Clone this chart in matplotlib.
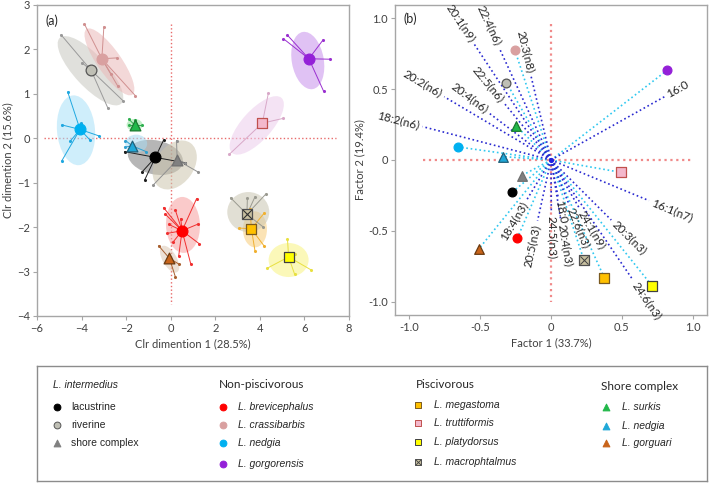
import numpy as np
import matplotlib
matplotlib.use("Agg")
import matplotlib.pyplot as plt
from matplotlib.patches import Ellipse
from matplotlib import transforms

# Especies / grupos
species = ['lacustrine', 'riverine', 'shore_int', 'brevicephalus', 'crassibarbis',
           'nedgia', 'gorgorensis', 'megastoma', 'truttiformis', 'platydorsus',
           'macrophtalmus', 'surkis', 'nedgia_shore', 'gorguari']

# Panel (a): centroides
cent_x = [-0.69, -3.57, 0.29, 0.51, -3.09, -4.07, 6.20, 3.62, 4.11, 5.29, 3.42, -1.62, -1.73, -0.06]
cent_y = [-0.43, 1.53, -0.49, -2.08, 1.79, 0.20, 1.79, -2.04, 0.34, -2.67, -1.71, 0.30, -0.17, -2.70]

# Panel (a): individuos por especie
ind_lacustrine = [(-2.07, -0.30), (-0.32, -0.04), (0.63, -0.55), (-1.29, -0.76), (-1.17, -0.94)]
ind_riverine = [(-4.92, 2.33), (-3.98, 1.70), (-2.82, 0.68), (-2.15, 0.85)]
ind_shore_int = [(0.26, -0.05), (1.23, -0.76), (-0.80, -1.06), (0.63, -0.55)]
ind_brevicephalus = [(1.16, -1.36), (-0.32, -1.56), (0.21, -1.62), (-0.24, -1.71), (0.45, -1.81),
                     (-0.08, -1.94), (-0.15, -2.14), (1.23, -1.93), (1.27, -2.37), (0.10, -2.34),
                     (0.36, -2.64), (0.90, -2.83)]
ind_crassibarbis = [(-3.87, 2.57), (-3.00, 2.51), (-2.40, 1.81), (-2.67, 1.44), (-2.37, 1.17), (-1.59, 0.96)]
ind_nedgia = [(-4.62, 1.04), (-4.88, 0.30), (-4.02, 0.34), (-4.50, -0.06), (-3.62, -0.04),
              (-3.20, 0.05), (-4.89, -0.51)]
ind_gorgorensis = [(5.06, 2.24), (5.24, 2.32), (6.83, 2.21), (7.13, 1.78), (6.86, 1.06)]
ind_megastoma = [(3.08, -2.02), (4.20, -1.68), (3.78, -2.53), (4.20, -2.43), (3.56, -1.59)]
ind_truttiformis = [(4.38, 1.01), (5.06, 0.45), (2.63, -0.36)]
ind_platydorsus = [(5.24, -2.27), (5.59, -2.61), (6.29, -2.96), (5.56, -3.06), (4.31, -2.93)]
ind_macrophtalmus = [(2.69, -1.34), (3.44, -1.34), (3.78, -1.32), (4.26, -1.26), (4.16, -2.00)]
ind_surkis = [(-1.88, 0.43), (-1.88, 0.30), (-1.30, 0.30), (-1.62, 0.42)]
ind_nedgia_shore = [(-2.03, -0.05), (-2.07, -0.20), (-1.10, -0.30)]
ind_gorguari = [(-0.54, -2.42), (0.36, -2.83), (0.21, -3.12)]

individuos = [ind_lacustrine, ind_riverine, ind_shore_int, ind_brevicephalus, ind_crassibarbis,
              ind_nedgia, ind_gorgorensis, ind_megastoma, ind_truttiformis, ind_platydorsus,
              ind_macrophtalmus, ind_surkis, ind_nedgia_shore, ind_gorguari]

# Panel (a): elipses (centro en datos, semiejes en px, angulo)
elip_cx = [-0.69, -3.60, 0.18, 0.55, -2.75, -4.25, 6.15, 3.78, 3.86, 5.29, 3.48, -1.62, -1.55, -0.05]
elip_cy = [-0.43, 1.52, -0.60, -1.95, 1.72, 0.18, 1.75, -2.05, 0.29, -2.74, -1.66, 0.30, -0.12, -2.72]
elip_a = [28, 45, 27, 28, 40, 35, 29, 18, 37, 20, 21, 8, 11, 15]
elip_b = [17, 16, 19, 17, 12, 19, 16, 12, 15, 17, 20, 6, 9, 7]
elip_ang = [-12, -47, 54, 92, -55, 95, 100, 90, 48, 0, 0, 0, 0, -60]

# Panel (b): especies
b_x = [-0.272, -0.315, -0.208, -0.237, -0.256, -0.654, 0.819, 0.376, 0.491, 0.712, 0.232, -0.246, -0.336, -0.508]
b_y = [-0.226, 0.547, -0.111, -0.551, 0.780, 0.092, 0.634, -0.832, -0.087, -0.888, -0.707, 0.240, 0.024, -0.627]

# Panel (b): ácidos grasos
vec_names = ['20:1(n9)', '22:4(n6)', '20:3(n8)', '22:5(n6)', '20:4(n6)', '20:2(n6)', '18:2(n6)',
             '16:0', '16:1(n7)', '20:3(n3)', '24:6(n3)', '24:1(n9)', '22:6(n3)', '20:4(n3)',
             '18:0', '24:5(n3)', '20:5(n3)', '18:4(n3)']
vec_x = [-0.541, -0.364, -0.140, -0.329, -0.435, -0.753, -0.906, 0.802, 0.691, 0.425, 0.578,
         0.201, 0.130, 0.070, 0.050, 0.002, -0.095, -0.170]
vec_y = [0.818, 0.789, 0.589, 0.400, 0.330, 0.447, 0.236, 0.448, -0.287, -0.424, -0.848,
         -0.342, -0.320, -0.430, -0.260, -0.370, -0.430, -0.280]

# Estilos
col = {'lacustrine': '#000000', 'riverine': '#bfbfb5', 'shore_int': '#808080',
       'brevicephalus': '#ff0000', 'crassibarbis': '#d9a0a0', 'nedgia': '#00b0f0',
       'gorgorensis': '#9420d8', 'megastoma': '#ffc000', 'truttiformis': '#f4b8cc',
       'platydorsus': '#ffff00', 'macrophtalmus': '#c8c0a0', 'surkis': '#22b84a',
       'nedgia_shore': '#1fa8d8', 'gorguari': '#c8641a'}
edge = {'lacustrine': '#000000', 'riverine': '#555555', 'shore_int': '#707070',
        'brevicephalus': '#ff0000', 'crassibarbis': '#d9a0a0', 'nedgia': '#00b0f0',
        'gorgorensis': '#9420d8', 'megastoma': '#7a5a20', 'truttiformis': '#c0504d',
        'platydorsus': '#404040', 'macrophtalmus': '#505050', 'surkis': '#1a7a30',
        'nedgia_shore': '#20607a', 'gorguari': '#6a3a10'}
line_col = {'lacustrine': '#202020', 'riverine': '#9a9a9a', 'shore_int': '#909090',
            'brevicephalus': '#f03030', 'crassibarbis': '#d09090', 'nedgia': '#20a8e0',
            'gorgorensis': '#9a30d0', 'megastoma': '#f0b030', 'truttiformis': '#d8a8c8',
            'platydorsus': '#e8e040', 'macrophtalmus': '#9a9a90', 'surkis': '#30b050',
            'nedgia_shore': '#30a0d0', 'gorguari': '#a86030'}
elip_col = {'lacustrine': '#7a7a7a', 'riverine': '#c8c8c0', 'shore_int': '#cdc6ae',
            'brevicephalus': '#f7a0a0', 'crassibarbis': '#eab8b8', 'nedgia': '#a8e0f8',
            'gorgorensis': '#c890ec', 'megastoma': '#f8cc78', 'truttiformis': '#ecccec',
            'platydorsus': '#f8f480', 'macrophtalmus': '#cac6b2', 'surkis': '#8ee09a',
            'nedgia_shore': '#a8dcf4', 'gorguari': '#dcc8b4'}
marker = {'lacustrine': 'o', 'riverine': 'o', 'shore_int': '^', 'brevicephalus': 'o',
          'crassibarbis': 'o', 'nedgia': 'o', 'gorgorensis': 'o', 'megastoma': 's',
          'truttiformis': 's', 'platydorsus': 's', 'macrophtalmus': 's', 'surkis': '^',
          'nedgia_shore': '^', 'gorguari': '^'}

plt.rcParams['font.family'] = ['Lato', 'DejaVu Sans']
tick_col = '#404040'
spine_col = '#a6a6a6'

fig = plt.figure(figsize=(7.09, 4.84), dpi=100)

def estilo(ax):
    for s in ax.spines.values():
        s.set_color(spine_col)
        s.set_linewidth(1.0)
    ax.tick_params(colors=tick_col, labelsize=8, length=3, width=0.8, color=spine_col, pad=2)

# ---------- Panel (a) ----------
ax = fig.add_axes([37 / 709, 168 / 484, 312 / 709, 311 / 484])
ax.set_xlim(-6, 8)
ax.set_ylim(-4, 3)
ax.set_xticks(range(-6, 9, 2))
ax.set_yticks(range(-4, 4))
estilo(ax)
ax.plot([-5.7, 7.4], [0, 0], ls=':', color='#e86a6a', lw=1.0, zorder=1)
ax.plot([0, 0], [2.58, -3.72], ls=':', color='#e86a6a', lw=1.0, zorder=1)

for i, sp in enumerate(species):
    tr = fig.dpi_scale_trans + transforms.ScaledTranslation(elip_cx[i], elip_cy[i], ax.transData)
    e = Ellipse((0, 0), 2 * elip_a[i] / 100, 2 * elip_b[i] / 100, angle=elip_ang[i],
                transform=tr, facecolor=elip_col[sp], edgecolor='none', alpha=0.55, zorder=2)
    ax.add_patch(e)

for i, sp in enumerate(species):
    pts = np.array(individuos[i])
    for px, py in pts:
        ax.plot([cent_x[i], px], [cent_y[i], py], color=line_col[sp], lw=0.7, zorder=3)
    ax.scatter(pts[:, 0], pts[:, 1], s=5, color=line_col[sp], zorder=4, linewidths=0)

for i, sp in enumerate(species):
    m = marker[sp]
    sz = 60 if m != 's' else 55
    ax.scatter(cent_x[i], cent_y[i], s=sz, marker=m, color=col[sp], edgecolors=edge[sp],
               linewidths=0.9, zorder=5)
    if sp == 'macrophtalmus':
        ax.scatter(cent_x[i], cent_y[i], s=40, marker='x', color='#303030', linewidths=0.8, zorder=6)

ax.text(0.026, 0.95, '(a)', transform=ax.transAxes, fontsize=9, color='#262626', va='center')
ax.set_xlabel('Clr dimention 1 (28.5%)', fontsize=8, color=tick_col, labelpad=3)
ax.set_ylabel('Clr dimention 2 (15.6%)', fontsize=8, color=tick_col, labelpad=3)

# ---------- Panel (b) ----------
bx = fig.add_axes([395 / 709, 169 / 484, 312 / 709, 310 / 484])
bx.set_xlim(-1.1, 1.1)
bx.set_ylim(-1.095, 1.095)
bx.set_xticks([-1.0, -0.5, 0, 0.5, 1.0])
bx.set_xticklabels(['-1.0', '-0.5', '0', '0.5', '1.0'])
bx.set_yticks([-1.0, -0.5, 0, 0.5, 1.0])
bx.set_yticklabels(['-1.0', '-0.5', '0', '0.5', '1.0'])
estilo(bx)
bx.plot([-0.906, 1.0], [0, 0], ls=':', color='#f08a8a', lw=1.6, zorder=1)
bx.plot([0, 0], [0.96, -1.0], ls=':', color='#f08a8a', lw=1.6, zorder=1)

for i, sp in enumerate(species):
    bx.plot([0, b_x[i]], [0, b_y[i]], ls=':', color='#30c8f0', lw=1.2, zorder=2)

for i, name in enumerate(vec_names):
    bx.plot([0, vec_x[i]], [0, vec_y[i]], ls=':', color='#2a2ad0', lw=1.2, zorder=3)
    ang = np.degrees(np.arctan2(vec_y[i], vec_x[i]))
    dx, dy = np.cos(np.radians(ang)), np.sin(np.radians(ang))
    if vec_x[i] >= 0:
        rot, ha = ang, 'left'
    else:
        rot, ha = ang + 180, 'right'
    bx.annotate(name, (vec_x[i], vec_y[i]), xytext=(2.5 * dx, 2.5 * dy), textcoords='offset points',
                rotation=rot, rotation_mode='anchor', ha=ha, va='center',
                fontsize=8.5, color='#262626', zorder=4)

bx.scatter([0], [0], s=14, color='#2020e0', zorder=4, linewidths=0)

for i, sp in enumerate(species):
    m = marker[sp]
    ec = edge[sp] if m != 'o' or sp == 'riverine' else col[sp]
    bx.scatter(b_x[i], b_y[i], s=48 if m != 'o' else 40, marker=m, color=col[sp],
               edgecolors=ec, linewidths=0.9, zorder=5)
    if sp == 'macrophtalmus':
        bx.scatter(b_x[i], b_y[i], s=34, marker='x', color='#404040', linewidths=0.7, zorder=6)

bx.text(0.026, 0.955, '(b)', transform=bx.transAxes, fontsize=9, color='#262626', va='center')
bx.set_xlabel('Factor 1 (33.7%)', fontsize=8, color=tick_col, labelpad=3)
bx.set_ylabel('Factor 2 (19.4%)', fontsize=8, color=tick_col, labelpad=2)

# ---------- Leyenda ----------
lg = fig.add_axes([37 / 709, 3 / 484, 670 / 709, 115 / 484])
lg.set_xlim(37, 707)
lg.set_ylim(481, 366)
lg.set_xticks([])
lg.set_yticks([])
for s in lg.spines.values():
    s.set_color('#8c8c8c')
    s.set_linewidth(1.0)

grupos = [
    ('L. intermedius', True, 53, 57, 71, [407, 425, 443],
     ['lacustrine', 'riverine', 'shore_int'], ['lacustrine', 'riverine', 'shore complex'], False),
    ('Non-piscivorous', False, 219, 223, 238, [407, 425, 443, 464],
     ['brevicephalus', 'crassibarbis', 'nedgia', 'gorgorensis'],
     ['L. brevicephalus', 'L. crassibarbis', 'L. nedgia', 'L. gorgorensis'], True),
    ('Piscivorous', False, 416, 418, 434, [405, 423, 442, 462],
     ['megastoma', 'truttiformis', 'platydorsus', 'macrophtalmus'],
     ['L. megastoma', 'L. truttiformis', 'L. platydorsus', 'L. macrophtalmus'], True),
    ('Shore complex', False, 601, 606, 622, [407, 426, 443],
     ['surkis', 'nedgia_shore', 'gorguari'], ['L. surkis', 'L. nedgia', 'L. gorguari'], True),
]
for titulo, tit_it, tx, mx, lx, rows, sps, labs, lab_it in grupos:
    ty = 385 if tit_it else 384
    if titulo == 'Shore complex':
        ty = 387
    lg.text(tx, ty, titulo, fontsize=7.5 if tit_it else 8.5, style='italic' if tit_it else 'normal',
            family=['Liberation Sans'] if tit_it else ['Lato'], color='#262626', va='center')
    for r, sp, lab in zip(rows, sps, labs):
        m = marker[sp]
        lg.scatter(mx, r, s=24 if m != 's' else 20, marker=m, color=col[sp],
                   edgecolors=edge[sp] if m == 's' or sp == 'riverine' else col[sp],
                   linewidths=0.7)
        if sp == 'macrophtalmus':
            lg.scatter(mx, r, s=16, marker='x', color='#404040', linewidths=0.6)
        lg.text(lx, r, lab, fontsize=7.5, style='italic' if lab_it else 'normal',
                family=['Liberation Sans'], color='#262626', va='center')

fig.savefig('out.png', dpi=100)
